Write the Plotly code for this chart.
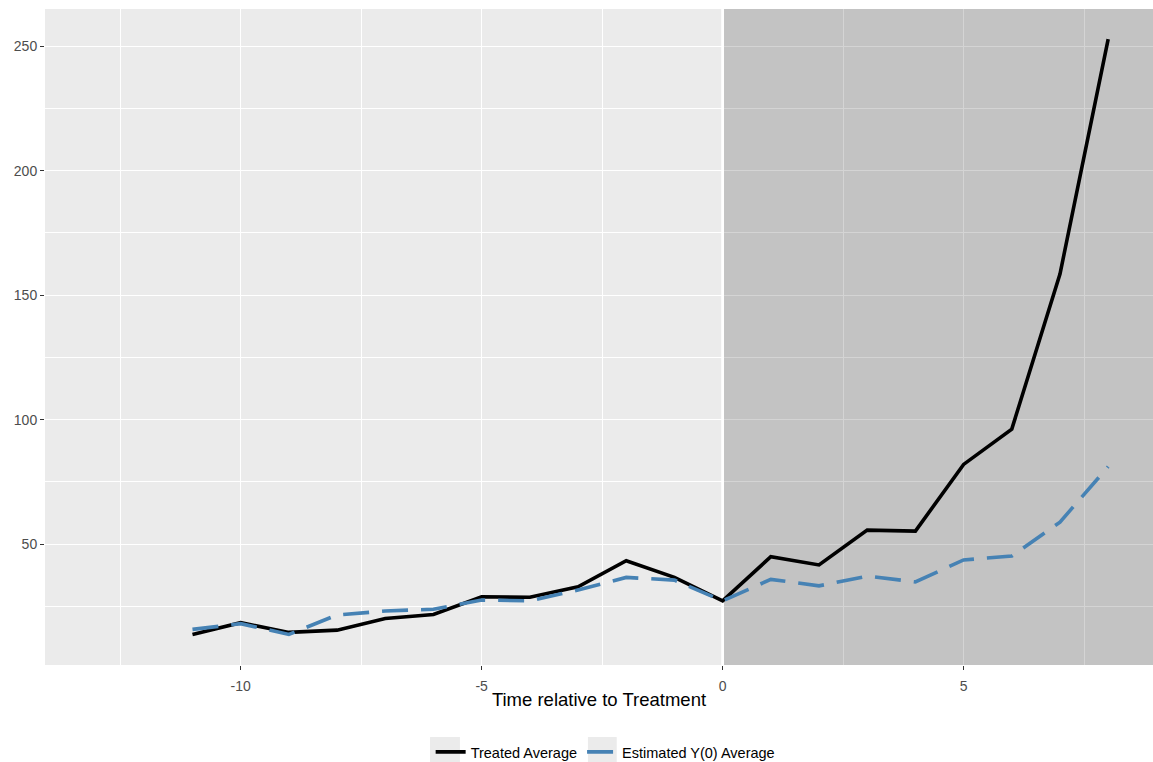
import plotly.graph_objects as go

time = list(range(-11, 9))
treated = [13.7, 18.4, 14.5, 15.4, 20.1, 21.7, 28.8, 28.6, 32.8, 43.3, 36.6, 27.2,
           44.9, 41.6, 55.6, 55.2, 82.0, 96.2, 158.5, 252.9]
estimated = [15.7, 18.0, 13.7, 21.5, 23.1, 23.8, 27.5, 27.2, 31.5, 36.6, 35.5, 27.2,
             35.8, 33.2, 37.1, 34.8, 43.6, 45.2, 58.8, 81.1]
x_ticks = [-10, -5, 0, 5]
x_ticktext = ["-10", "-5", "0", "5"]
y_ticks = [50, 100, 150, 200, 250]
x_range = [-14.06, 8.93]
y_range = [1.4, 265]
treat_start = 0

fig = go.Figure()
# shaded treatment period (as a filled trace so it sits above the grid)
fig.add_trace(go.Scatter(x=[treat_start, x_range[1], x_range[1], treat_start, treat_start],
                         y=[y_range[0], y_range[0], y_range[1], y_range[1], y_range[0]],
                         mode="lines", fill="toself", fillcolor="rgba(0,0,0,0.17)",
                         line=dict(width=0), hoverinfo="skip", showlegend=False))
fig.add_trace(go.Scatter(x=[treat_start, treat_start], y=y_range, mode="lines",
                         line=dict(color="white", width=2.8), hoverinfo="skip", showlegend=False))
fig.add_trace(go.Scatter(x=time, y=treated, mode="lines", name="Treated Average",
                         line=dict(color="black", width=3.6)))
fig.add_trace(go.Scatter(x=time, y=estimated, mode="lines", name="Estimated Y(0) Average",
                         line=dict(color="#4682B4", width=3.6, dash="26px,13px")))

# legend key backgrounds (ggplot style)
for x0, x1 in [(0.3475, 0.3745), (0.490, 0.516)]:
    fig.add_shape(type="rect", xref="paper", yref="paper", x0=x0, x1=x1, y0=-0.1479, y1=-0.1098,
                  fillcolor="#EBEBEB", line_width=0, layer="below")

tickfont = dict(family="Liberation Sans, Arial", size=14, color="#4D4D4D")
fig.update_layout(
    width=1153, height=762,
    margin=dict(l=45, r=0, t=9, b=97, autoexpand=False),
    paper_bgcolor="white", plot_bgcolor="#EBEBEB",
    font=dict(family="Liberation Sans, Arial", color="black"),
    showlegend=True,
    legend=dict(orientation="h", x=0.506, xanchor="center", y=-0.1326, yanchor="middle",
                font=dict(size=14.5, color="black"), itemwidth=30,
                bgcolor="rgba(0,0,0,0)"),
    xaxis=dict(range=x_range, tickvals=x_ticks, ticktext=x_ticktext, showline=False, zeroline=False,
               automargin=False, ticklabelstandoff=4,
               gridcolor="white", gridwidth=1.2,
               minor=dict(tickvals=[-12.5, -7.5, -2.5, 2.5, 7.5], gridcolor="white", gridwidth=0.6),
               ticks="outside", ticklen=4, tickcolor="#333333", tickwidth=1.1,
               tickfont=tickfont,
               title=dict(text="Time relative to Treatment", standoff=0,
                          font=dict(size=18.5, color="black"))),
    yaxis=dict(range=y_range, tickvals=y_ticks, showline=False, zeroline=False,
               automargin=False,
               gridcolor="white", gridwidth=1.2,
               minor=dict(tickvals=[25, 75, 125, 175, 225], gridcolor="white", gridwidth=0.6),
               ticks="outside", ticklen=4, tickcolor="#333333", tickwidth=1.1,
               tickfont=tickfont),
)

page_fix = (
    "var s=document.createElement('style');"
    "s.innerHTML='html,body{margin:0!important;padding:0!important;overflow:hidden!important;}';"
    "document.head.appendChild(s);"
)
fig.write_html("out.html", config={"displayModeBar": False}, post_script=page_fix)
